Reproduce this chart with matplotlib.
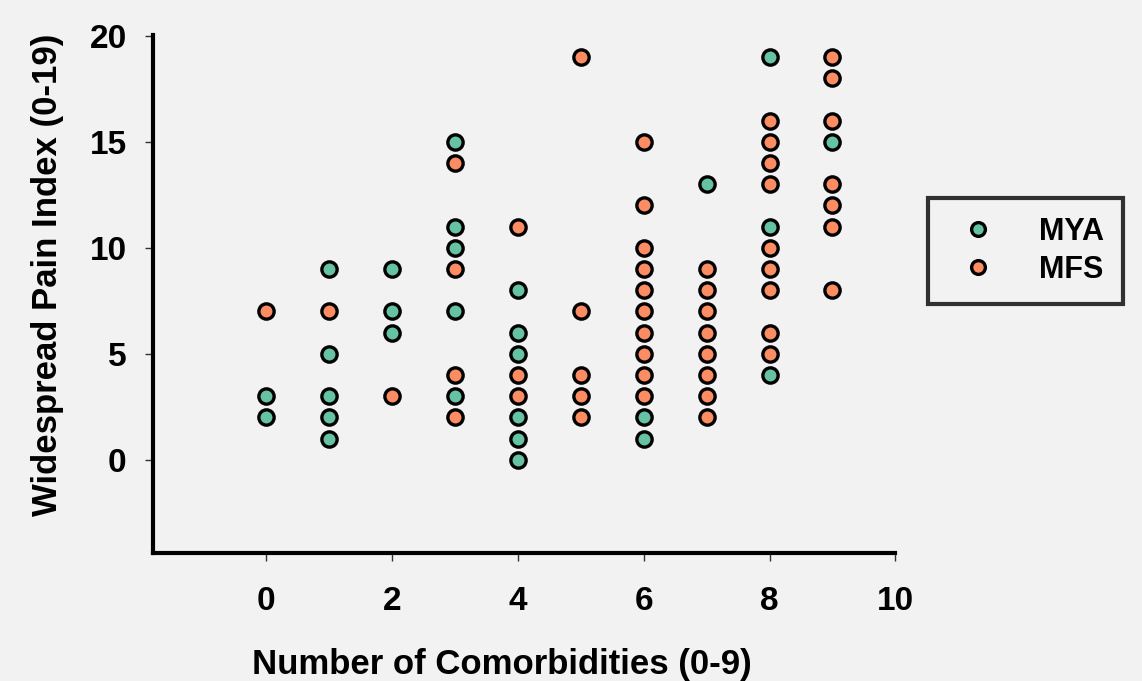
import matplotlib
matplotlib.use("Agg")
import matplotlib.pyplot as plt

plt.rcParams['font.family'] = ['Liberation Sans', 'DejaVu Sans']

# MYA series
mya_x = [0, 0,
         1, 1, 1, 1, 1,
         2, 2, 2,
         3, 3, 3, 3, 3,
         4, 4, 4, 4, 4, 4,
         6, 6,
         7,
         8, 8, 8,
         9]
mya_y = [3, 2,
         9, 5, 3, 2, 1,
         9, 7, 6,
         15, 11, 10, 7, 3,
         8, 6, 5, 2, 1, 0,
         2, 1,
         13,
         19, 11, 4,
         15]

# MFS series
mfs_x = [0,
         1,
         2,
         3, 3, 3, 3,
         4, 4, 4,
         5, 5, 5, 5, 5,
         6, 6, 6, 6, 6, 6, 6, 6, 6, 6,
         7, 7, 7, 7, 7, 7, 7, 7,
         8, 8, 8, 8, 8, 8, 8, 8, 8,
         9, 9, 9, 9, 9, 9, 9]
mfs_y = [7,
         7,
         3,
         14, 9, 4, 2,
         11, 4, 3,
         19, 7, 4, 3, 2,
         15, 12, 10, 9, 8, 7, 6, 5, 4, 3,
         9, 8, 7, 6, 5, 4, 3, 2,
         16, 15, 14, 13, 10, 9, 8, 6, 5,
         19, 18, 16, 13, 12, 11, 8]

series_names = ["MYA", "MFS"]
colors = ["#66c2a5", "#fc8d62"]

xticks = [0, 2, 4, 6, 8, 10]
yticks = [0, 5, 10, 15, 20]

bg = "#f2f2f2"
fig = plt.figure(figsize=(11.42, 6.81), dpi=100, facecolor=bg)
ax = fig.add_axes([0.134, 0.188, 0.650, 0.761], facecolor=bg)

ax.plot(mya_x, mya_y, 'o', ms=11, mfc=colors[0], mec='black', mew=2.4,
        label=series_names[0], clip_on=False)
ax.plot(mfs_x, mfs_y, 'o', ms=11, mfc=colors[1], mec='black', mew=2.4,
        label=series_names[1], clip_on=False)

ax.set_xlim(-1.8, 10)
ax.set_ylim(-4.4, 20.05)
ax.set_xticks(xticks)
ax.set_yticks(yticks)
ax.set_xticklabels([str(t) for t in xticks], fontsize=24, fontweight='bold')
ax.set_yticklabels([str(t) for t in yticks], fontsize=24, fontweight='bold')
ax.tick_params(axis='both', direction='out', length=6, width=1, color='#333333')
ax.tick_params(axis='x', pad=18)
ax.tick_params(axis='y', pad=13)

for s in ['top', 'right']:
    ax.spines[s].set_visible(False)
for s in ['left', 'bottom']:
    ax.spines[s].set_linewidth(3)

ax.set_xlabel("Number of Comorbidities (0-9)", fontsize=25, fontweight='bold', labelpad=22)
ax.set_ylabel("Widespread Pain Index (0-19)", fontsize=25, fontweight='bold', labelpad=18)
ax.xaxis.label.set_x(0.470)
ax.yaxis.label.set_y(0.536)

leg = ax.legend(loc='upper left', bbox_to_anchor=(1.0445, 0.685), frameon=True,
                fancybox=False, edgecolor='black', facecolor=bg, markerscale=0.9,
                prop={'size': 22, 'weight': 'bold'}, handletextpad=1.0,
                handlelength=2.0, borderpad=0.62, labelspacing=0.25, borderaxespad=0)
leg.get_frame().set_linewidth(3)

fig.savefig("out.png", dpi=100, facecolor=bg)
